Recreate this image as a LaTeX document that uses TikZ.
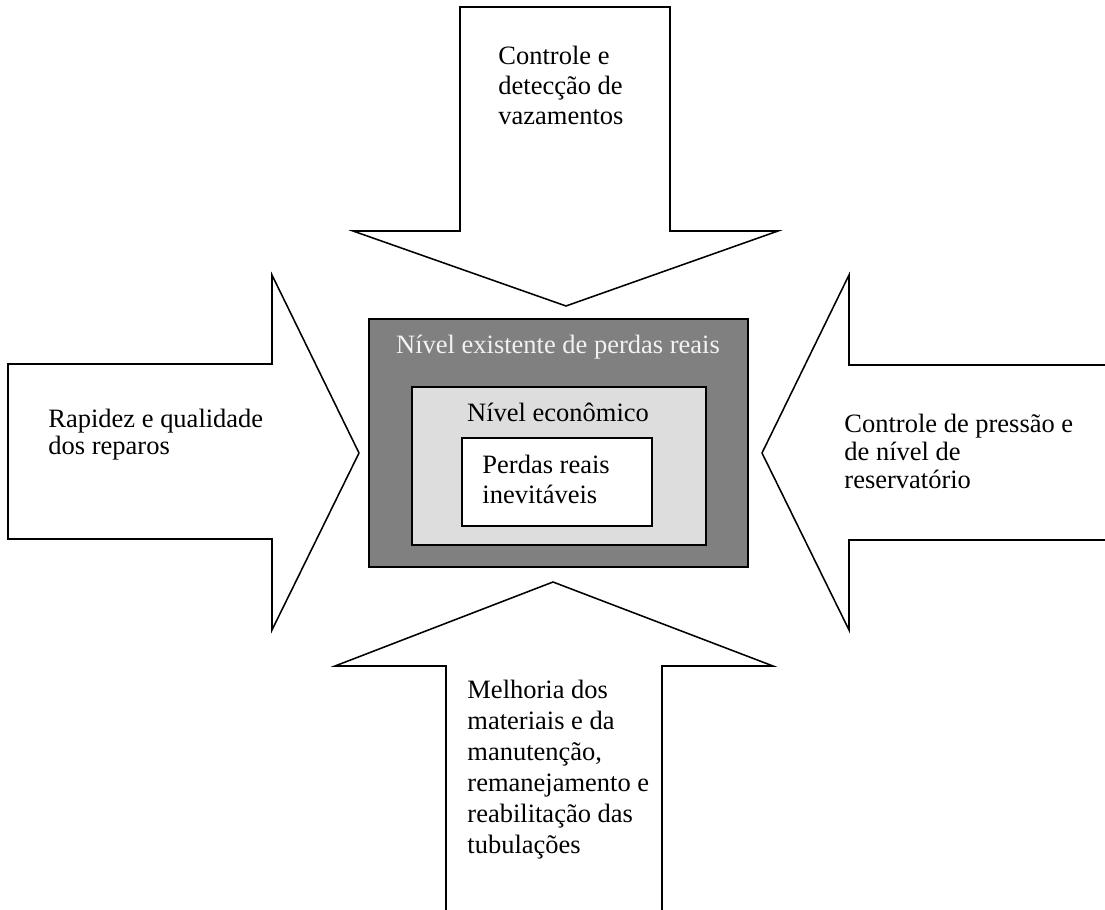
\documentclass[tikz,border=0pt]{standalone}
\usepackage{fontspec}
\setmainfont{Liberation Serif}
\definecolor{outergray}{HTML}{808080}
\definecolor{innergray}{HTML}{DDDDDD}
\definecolor{palefont}{HTML}{F2F2F2}

\begin{document}
\begin{tikzpicture}[x=0.453pt, y=-0.453pt,
  bigarrow/.style={draw, line width=0.7pt, fill=white, line join=miter},
  levelbox/.style={draw, line width=0.9pt},
  armtext/.style={anchor=north west, inner sep=0pt, align=left},
  boxtext/.style={anchor=base, inner sep=0pt, font=\fontsize{12}{13.6}\selectfont}]
  \useasboundingbox (0,0) rectangle (1105,910);

  % Arrow from the top
  \draw[bigarrow] (460,7) -- (670,7) -- (670,231) -- (778,231) -- (566,306)
    -- (353,231) -- (460,231) -- cycle;
  \node[armtext, font=\fontsize{12}{13.6}\selectfont] (detect) at (498,46)
    {Controle e\\detecção de\\vazamentos};

  % Arrow from the left
  \draw[bigarrow] (8,364) -- (272,364) -- (272,275) -- (359,453) -- (272,630)
    -- (272,539) -- (8,539) -- cycle;
  \node[armtext, font=\fontsize{12}{12.2}\selectfont] (repair) at (48,409)
    {Rapidez e qualidade\\dos reparos};

  % Arrow from the right (cut by the page edge)
  \draw[bigarrow] (1106,365) -- (849,365) -- (849,275) -- (762,453) -- (849,630)
    -- (849,540) -- (1106,540);
  \node[armtext, font=\fontsize{12}{12.7}\selectfont] (pressure) at (844,414)
    {Controle de pressão e\\de nível de\\reservatório};

  % Arrow from the bottom (cut by the page edge)
  \draw[bigarrow] (446,911) -- (446,666) -- (335,666) -- (553,582) -- (773,666)
    -- (662,666) -- (662,911);
  \node[armtext, font=\fontsize{12}{14}\selectfont] (materials) at (467,680)
    {Melhoria dos\\materiais e da\\manutenção,\\remanejamento e\\reabilitação das\\tubulações};

  % Nested levels of losses
  \draw[levelbox, fill=outergray] (369,319) rectangle (748,567);
  \draw[levelbox, fill=innergray] (412,387) rectangle (706,545);
  \draw[levelbox, fill=white] (462,438) rectangle (652,526);
  \node[boxtext, text=palefont] (existing) at (558,354) {Nível existente de perdas reais};
  \node[boxtext] (economic) at (558,422) {Nível econômico};
  \node[armtext, font=\fontsize{12}{13.6}\selectfont] (unavoid) at (482,455)
    {Perdas reais\\inevitáveis};
\end{tikzpicture}
\end{document}
